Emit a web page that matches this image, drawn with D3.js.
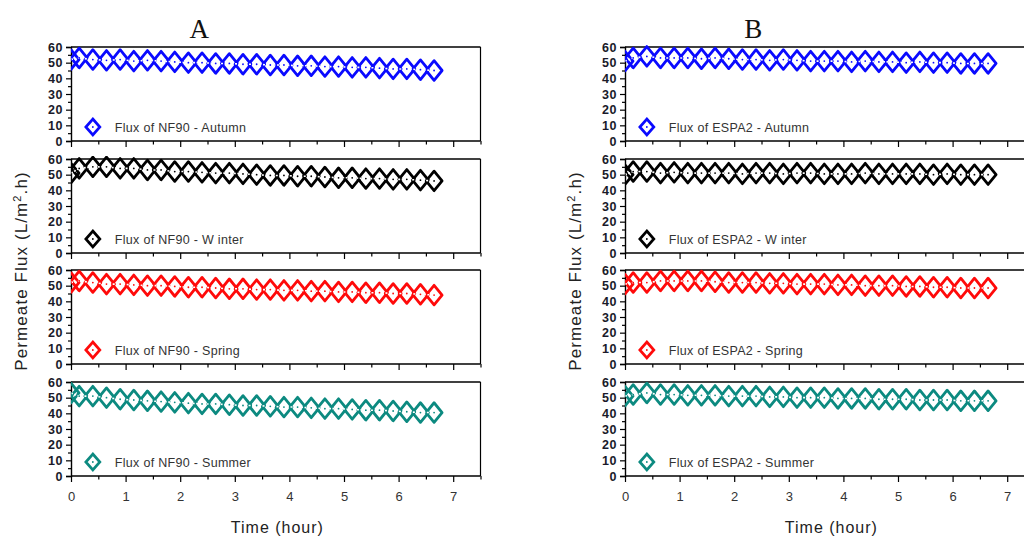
<!DOCTYPE html>
<html>
<head>
<meta charset="utf-8">
<script src="https://cdn.jsdelivr.net/npm/d3@7"></script>
<style>
  body { margin: 0; background: #fff; }
  svg { display: block; }
</style>
</head>
<body>
<svg id="chart" width="1024" height="537"></svg>
<script>
// ---- Data ----
const hours = [0, 0.15, 0.4, 0.65, 0.9, 1.15, 1.4, 1.65, 1.9, 2.15, 2.4, 2.65, 2.9, 3.15, 3.4, 3.65, 3.9, 4.15, 4.4, 4.65, 4.9, 5.15, 5.4, 5.65, 5.9, 6.15, 6.4, 6.65];

const nf90Autumn = [52, 53, 52, 51.5, 52, 51, 51.5, 51, 50.5, 50, 50, 49.5, 49.5, 49, 49, 48.5, 48.5, 48, 48, 47.5, 47.5, 47, 47, 46.5, 46, 46, 45.5, 45];
const nf90Winter = [51, 54, 55, 55, 54, 54, 53, 53, 52, 52, 51.5, 51, 51, 50.5, 50, 49.5, 49.5, 49, 49, 48.5, 48, 48, 47.5, 47.5, 47, 47, 46.5, 46];
const nf90Spring = [52, 53, 52, 51, 51, 50.5, 50, 50, 49.5, 49, 49, 48.5, 48, 48, 47.5, 47.5, 47, 47, 46.5, 46.5, 46, 46, 45.5, 45.5, 45, 45, 44.5, 44];
const nf90Summer = [53, 51, 51, 50, 49, 48.5, 48, 47.5, 47, 46.5, 46, 46, 45.5, 45, 45, 44.5, 44, 44, 43.5, 43, 43, 42.5, 42, 42, 41.5, 41, 40.5, 40.5];

const espa2Autumn = [51, 53, 54, 53, 53, 53, 52.5, 53, 52.5, 52, 52, 51.5, 52, 51.5, 51, 51, 51, 50.5, 51, 50.5, 50.5, 50, 50.5, 50, 50, 49.5, 49.5, 49.5];
const espa2Winter = [50, 52, 52, 51, 51.5, 51, 51, 51, 51, 50.5, 51, 51, 50.5, 51, 51, 50.5, 50.5, 50.5, 51, 50.5, 50.5, 50.5, 50.5, 50, 50.5, 50, 50, 50];
const espa2Spring = [51, 52, 52, 53, 53, 53, 53, 52.5, 52, 52, 52, 51.5, 51.5, 51, 51, 51, 50.5, 50.5, 50, 50, 50, 49.5, 49.5, 49, 49, 48.5, 48.5, 48.5];
const espa2Summer = [51, 52, 53, 52, 52, 51.5, 51.5, 51.5, 51, 51, 51, 50.5, 50.5, 50, 50, 50, 49.5, 49.5, 49.5, 49, 49, 49, 48.5, 48.5, 48.5, 48, 48, 48];

const seasons = ["Autumn", "Winter", "Spring", "Summer"];
const seasonLegend = ["Autumn", "W inter", "Spring", "Summer"];
const seasonColors = ["#0a0aff", "#000000", "#ff0a0a", "#0c8a80"];
const membranes = ["NF90", "ESPA2"];
const panelLetters = ["A", "B"];
const xMajorTicks = [0, 1, 2, 3, 4, 5, 6, 7];
const xMinorTicks = [0.5, 1.5, 2.5, 3.5, 4.5, 5.5, 6.5, 7.5];
const yMajorTicks = [0, 10, 20, 30, 40, 50, 60];
const yMinorTicks = [5, 15, 25, 35, 45, 55];
const seriesByMembrane = [
  [nf90Autumn, nf90Winter, nf90Spring, nf90Summer],
  [espa2Autumn, espa2Winter, espa2Spring, espa2Summer]
];

// ---- Layout ----
const svg = d3.select("#chart");
const chartLeft = [71, 625];
const xDomain = [0, 7.5];
const pxPerHour = 54.6;
const panelTops = [47, 159, 270, 382];
const panelH = 94;
const font = "'Liberation Sans', Arial, sans-serif";

membranes.forEach((mem, mi) => {
  const x0 = chartLeft[mi];
  const x = d3.scaleLinear().domain(xDomain).range([x0, x0 + pxPerHour * 7.5]);
  const g = svg.append("g");

  // Panel letter
  g.append("text")
    .attr("x", x(2.35)).attr("y", 38)
    .attr("text-anchor", "middle")
    .attr("font-family", "'Liberation Serif', 'Times New Roman', serif")
    .attr("font-size", 27)
    .attr("fill", "#111")
    .text(panelLetters[mi]);

  seasons.forEach((season, si) => {
    const top = panelTops[si];
    const y = d3.scaleLinear().domain([0, 60]).range([top + panelH, top]);
    const color = seasonColors[si];
    const values = seriesByMembrane[mi][si];
    const pg = g.append("g");

    const clipId = `clip-${mi}-${si}`;
    svg.append("clipPath").attr("id", clipId)
      .append("rect")
      .attr("x", x(0)).attr("y", top - 3)
      .attr("width", x(7.5) - x(0)).attr("height", panelH + 3);

    // Top border & right border
    pg.append("line")
      .attr("x1", x(0)).attr("x2", x(7.5))
      .attr("y1", y(60)).attr("y2", y(60))
      .attr("stroke", "#000").attr("stroke-width", 1.4);
    pg.append("line")
      .attr("x1", x(7.5)).attr("x2", x(7.5))
      .attr("y1", y(60)).attr("y2", y(0))
      .attr("stroke", "#000").attr("stroke-width", 1.2);

    // Y axis major
    const yAxis = pg.append("g")
      .attr("transform", `translate(${x(0)},0)`)
      .call(d3.axisLeft(y).tickValues(yMajorTicks).tickSize(5).tickPadding(3).tickFormat(d3.format("d")));
    yAxis.select(".domain").attr("stroke-width", 1.4);
    yAxis.selectAll(".tick line").attr("stroke-width", 1.2);
    yAxis.selectAll("text")
      .attr("font-family", font).attr("font-size", 12.5).attr("font-weight", "bold")
      .attr("fill", "#1a1a2a").attr("letter-spacing", 0.6);
    const yMinor = pg.append("g")
      .attr("transform", `translate(${x(0)},0)`)
      .call(d3.axisLeft(y).tickValues(yMinorTicks).tickSize(3).tickFormat(""));
    yMinor.select(".domain").remove();
    yMinor.selectAll(".tick line").attr("stroke-width", 1.2);

    // X axis
    const xAxis = pg.append("g")
      .attr("transform", `translate(0,${y(0)})`)
      .call(d3.axisBottom(x).tickValues(xMajorTicks).tickSize(6).tickPadding(10)
        .tickFormat(si === 3 ? d3.format("d") : ""));
    xAxis.select(".domain").attr("stroke-width", 1.4).attr("d", `M${x(0)},0H${x(7.5)}`);
    xAxis.selectAll(".tick line").attr("stroke-width", 1.2);
    xAxis.selectAll("text")
      .attr("font-family", font).attr("font-size", 13)
      .attr("fill", "#333");
    const xMinor = pg.append("g")
      .attr("transform", `translate(0,${y(0)})`)
      .call(d3.axisBottom(x).tickValues(xMinorTicks).tickSize(3.5).tickFormat(""));
    xMinor.select(".domain").remove();
    xMinor.selectAll(".tick line").attr("stroke-width", 1.2);

    // Data
    const pts = hours.map((h, i) => [h, values[i]]);
    const dg = pg.append("g").attr("clip-path", `url(#${clipId})`);
    const diamond = (cx, cy, hw, hh) => `M${cx},${cy - hh}L${cx + hw},${cy}L${cx},${cy + hh}L${cx - hw},${cy}Z`;
    dg.selectAll("path.mk").data(pts).enter().append("path")
      .attr("class", "mk")
      .attr("d", d => diamond(x(d[0]), y(d[1]), 8, 9.8))
      .attr("fill", "none")
      .attr("stroke", color)
      .attr("stroke-width", 2.8)
      .attr("stroke-linejoin", "round");
    dg.append("path")
      .attr("d", d3.line().x(d => x(d[0])).y(d => y(d[1]))(pts))
      .attr("fill", "none")
      .attr("stroke", "#fff")
      .attr("stroke-width", 1.6)
      .attr("stroke-dasharray", "2,1.5");
    dg.selectAll("circle.c").data(pts).enter().append("circle")
      .attr("class", "c")
      .attr("cx", d => x(d[0])).attr("cy", d => y(d[1]))
      .attr("r", 0.9).attr("fill", color);

    // Legend
    const lx = x(0.4), ly = y(0) - 14;
    pg.append("path")
      .attr("d", diamond(lx, ly, 7, 8))
      .attr("fill", "none").attr("stroke", color).attr("stroke-width", 2.7);
    pg.append("circle").attr("cx", lx).attr("cy", ly).attr("r", 0.9).attr("fill", color);
    pg.append("text")
      .attr("x", lx + 22).attr("y", ly + 4.5)
      .attr("font-family", font).attr("font-size", 12.5)
      .attr("fill", "#333").attr("letter-spacing", 0.3)
      .text(`Flux of ${mem} - ${seasonLegend[si]}`);
  });

  // X title
  g.append("text")
    .attr("x", x(3.78)).attr("y", 533)
    .attr("text-anchor", "middle")
    .attr("font-family", font).attr("font-size", 16)
    .attr("fill", "#222").attr("letter-spacing", 1)
    .text("Time (hour)");

  // Y title
  const yt = g.append("text")
    .attr("transform", `translate(${x0 - 44},271) rotate(-90)`)
    .attr("text-anchor", "middle")
    .attr("font-family", font).attr("font-size", 17)
    .attr("fill", "#222").attr("letter-spacing", 1.1);
  yt.append("tspan").text("Permeate Flux (L/m");
  yt.append("tspan").attr("dy", -6).attr("font-size", 11).text("2");
  yt.append("tspan").attr("dy", 6).text(".h)");
});
</script>
</body>
</html>
